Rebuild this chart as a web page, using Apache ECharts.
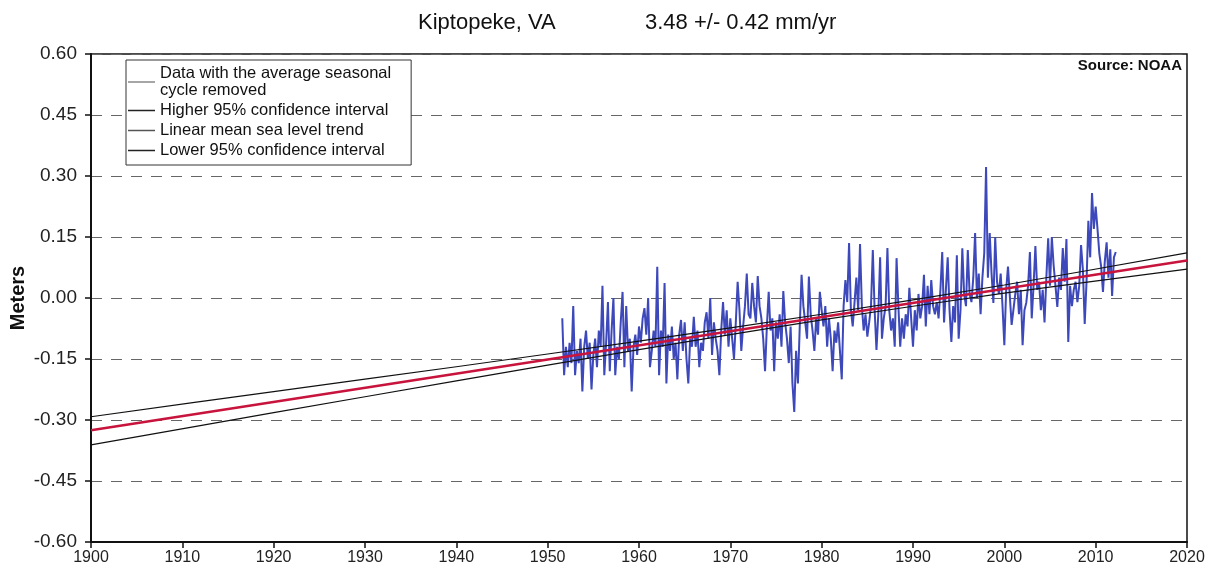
<!DOCTYPE html>
<html>
<head>
<meta charset="utf-8">
<script src="https://cdn.jsdelivr.net/npm/echarts@6/dist/echarts.min.js"></script>
<style>
html,body{margin:0;padding:0;background:#fff;}
#chart{width:1214px;height:577px;}
</style>
</head>
<body>
<div id="chart"></div>
<script>
// ---- Data ----
const dataStartYear = 1951.6;
const dataStep = 0.2; // years between readings
const seaLevel = [
  -0.05,-0.19,
  -0.12,-0.17,-0.11,-0.16,-0.02,
  -0.19,-0.13,-0.16,-0.10,-0.23,
  -0.12,-0.08,-0.15,-0.11,-0.225,
  -0.14,-0.10,-0.17,-0.08,-0.12,
  0.03,-0.19,-0.11,-0.01,-0.18,
  -0.08,0.00,-0.19,-0.12,-0.15,
  -0.06,0.015,-0.17,-0.02,-0.13,
  -0.10,-0.23,-0.12,-0.09,-0.14,
  -0.07,-0.11,-0.05,-0.025,-0.09,
  0.00,-0.17,-0.13,-0.08,-0.12,
  0.077,-0.19,-0.08,-0.12,0.037,
  -0.21,-0.09,-0.13,-0.07,-0.15,
  -0.11,-0.20,-0.09,-0.054,-0.13,
  -0.06,-0.15,-0.21,-0.10,-0.12,
  -0.046,-0.12,-0.08,-0.17,-0.11,
  -0.13,-0.06,-0.035,-0.10,0.00,
  -0.14,-0.06,-0.10,-0.13,-0.19,
  -0.08,-0.01,-0.09,-0.03,-0.12,
  -0.05,-0.10,-0.15,-0.06,0.04,
  -0.03,-0.13,-0.07,-0.02,0.06,
  -0.04,-0.05,0.037,-0.02,-0.06,
  0.054,-0.02,-0.05,-0.10,-0.18,
  -0.07,0.015,-0.08,-0.05,-0.18,
  -0.06,-0.10,-0.04,-0.12,0.017,
  -0.06,-0.10,-0.16,-0.07,-0.21,
  -0.28,-0.13,-0.21,-0.07,0.057,
  -0.02,-0.06,-0.10,0.053,-0.04,
  -0.08,-0.13,-0.05,-0.09,0.015,
  -0.03,-0.07,-0.02,-0.12,-0.05,
  -0.10,-0.18,-0.08,-0.11,-0.06,
  -0.13,-0.20,-0.02,0.044,-0.01,
  0.135,-0.03,-0.07,-0.01,0.05,
  -0.03,0.133,-0.02,-0.08,-0.04,
  -0.095,-0.06,-0.02,0.118,-0.03,
  -0.128,-0.04,0.10,-0.10,-0.05,
  -0.02,0.123,-0.03,-0.08,-0.05,
  -0.12,0.098,-0.02,-0.12,-0.05,
  -0.10,-0.04,-0.07,0.025,-0.05,
  -0.12,-0.03,-0.08,0.01,-0.05,
  -0.02,0.057,-0.07,0.03,-0.04,
  0.044,-0.02,-0.04,-0.01,-0.05,
  0.02,0.113,-0.06,0.02,0.10,
  -0.03,-0.108,-0.02,-0.06,0.105,
  -0.10,-0.03,0.122,0.01,-0.02,
  0.118,0.01,-0.01,0.05,0.16,
  0.00,0.06,-0.04,0.05,0.11,
  0.322,0.05,0.16,0.06,-0.012,
  0.15,0.04,0.01,0.06,-0.02,
  -0.116,0.02,0.077,0.075,-0.066,
  -0.066,0.01,0.04,-0.04,0.02,
  -0.116,-0.03,-0.012,0.03,0.113,
  -0.05,0.03,0.128,0.02,0.04,
  -0.03,0.02,-0.06,0.05,0.147,
  0.03,0.15,0.08,0.03,-0.022,
  0.05,0.02,0.123,0.04,0.145,
  -0.108,0.03,-0.02,0.02,0.04,
  -0.01,0.03,0.13,0.07,-0.064,
  0.04,0.19,0.10,0.258,0.17,
  0.225,0.17,0.11,0.077,0.015,
  0.09,0.137,0.05,0.12,0.005,
  0.10,0.113
];
const trendYears = [1900, 2020];
const trendValues = [-0.325, 0.092];
const ciYears = [1900, 1920, 1940, 1960, 1980, 2000, 2020];
const upperCI = [-0.292, -0.230, -0.169, -0.106, -0.040, 0.032, 0.111];
const lowerCI = [-0.361, -0.282, -0.204, -0.127, -0.054, 0.012, 0.071];
const seriesNames = [
  'Data with the average seasonal\ncycle removed',
  'Higher 95% confidence interval',
  'Linear mean sea level trend',
  'Lower 95% confidence interval'
];

const dataPairs = seaLevel.map((v, i) => [+(dataStartYear + i * dataStep).toFixed(2), v]);
const trendPairs = trendYears.map((y, i) => [y, trendValues[i]]);
const upperPairs = ciYears.map((y, i) => [y, upperCI[i]]);
const lowerPairs = ciYears.map((y, i) => [y, lowerCI[i]]);

const chart = echarts.init(document.getElementById('chart'), null, {renderer: 'canvas'});
const font = 'Arial, "Liberation Sans", sans-serif';
chart.setOption({
  backgroundColor: '#ffffff',
  animation: false,
  textStyle: {fontFamily: font},
  title: [
    {text: 'Kiptopeke, VA', left: 413, top: 7,
     textStyle: {fontSize: 22, fontWeight: 'normal', color: '#111', fontFamily: font}},
    {text: '3.48 +/- 0.42 mm/yr', left: 640, top: 7,
     textStyle: {fontSize: 22, fontWeight: 'normal', color: '#111', fontFamily: font}}
  ],
  graphic: [
    {type: 'text', right: 32, top: 58,
     style: {text: 'Source: NOAA', font: 'bold 15px Arial, "Liberation Sans", sans-serif', fill: '#111'}}
  ],
  legend: {
    orient: 'vertical', left: 126, top: 60,
    backgroundColor: '#fff', borderColor: '#333', borderWidth: 1,
    padding: [5, 20, 6, 2], itemGap: 3,
    itemWidth: 27, itemHeight: 1.5, icon: 'rect',
    textStyle: {fontSize: 16.5, color: '#111', lineHeight: 17, fontFamily: font},
    data: [
      {name: seriesNames[0], itemStyle: {color: '#888'}},
      {name: seriesNames[1], itemStyle: {color: '#222'}},
      {name: seriesNames[2], itemStyle: {color: '#555'}},
      {name: seriesNames[3], itemStyle: {color: '#222'}}
    ]
  },
  grid: {left: 91, right: 27, top: 54, bottom: 35, show: true, containLabel: false,
         outerBoundsMode: 'none',
         borderColor: '#111', borderWidth: 1.5, backgroundColor: 'transparent'},
  xAxis: {
    type: 'value', min: 1900, max: 2020, interval: 10,
    axisLine: {show: true, onZero: false, lineStyle: {color: '#111', width: 2}},
    axisTick: {show: true, length: 6, lineStyle: {color: '#111', width: 1.5}},
    axisLabel: {fontSize: 16, color: '#222', margin: 8, fontFamily: font,
                formatter: v => String(v)},
    splitLine: {show: false}
  },
  yAxis: {
    type: 'value', min: -0.6, max: 0.6, interval: 0.15,
    name: 'Meters', nameLocation: 'middle', nameGap: 63, nameMoveOverlap: false,
    nameTextStyle: {fontSize: 20, fontWeight: 'bold', color: '#111', fontFamily: font},
    axisLine: {show: true, lineStyle: {color: '#111', width: 2}},
    axisTick: {show: true, length: 6, lineStyle: {color: '#111', width: 1.5}},
    axisLabel: {fontSize: 19, color: '#222', margin: 14, fontFamily: font,
                formatter: v => v.toFixed(2)},
    splitLine: {show: true, lineStyle: {color: '#666', type: [11, 9], width: 1}}
  },
  series: [
    {name: seriesNames[0], type: 'line', data: dataPairs, showSymbol: false, symbol: 'none',
     lineStyle: {color: '#3d49ba', width: 2}, itemStyle: {color: '#3d49ba'}, z: 2},
    {name: seriesNames[1], type: 'line', data: upperPairs, showSymbol: false, symbol: 'none', smooth: 0.3,
     lineStyle: {color: '#111', width: 1.2}, itemStyle: {color: '#111'}, z: 3},
    {name: seriesNames[2], type: 'line', data: trendPairs, showSymbol: false, symbol: 'none',
     lineStyle: {color: '#c8143c', width: 2.6}, itemStyle: {color: '#c8143c'}, z: 4},
    {name: seriesNames[3], type: 'line', data: lowerPairs, showSymbol: false, symbol: 'none', smooth: 0.3,
     lineStyle: {color: '#111', width: 1.2}, itemStyle: {color: '#111'}, z: 3}
  ]
});
</script>
</body>
</html>
